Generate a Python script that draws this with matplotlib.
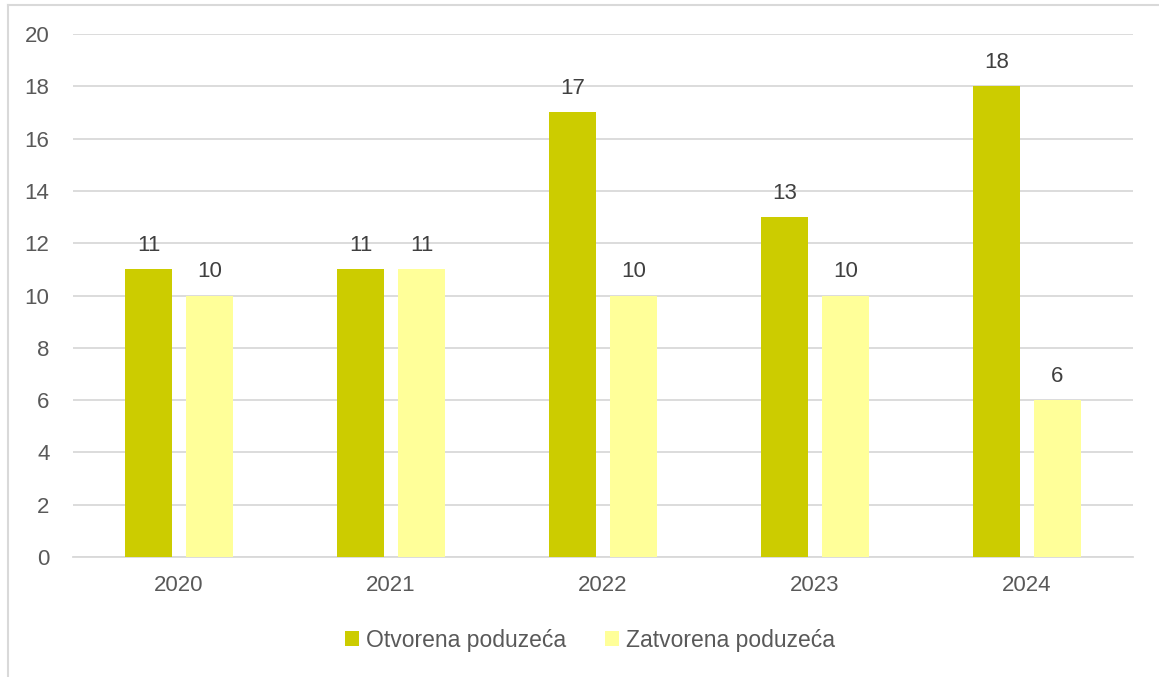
import matplotlib
matplotlib.use("Agg")
import matplotlib.pyplot as plt
from matplotlib.lines import Line2D
from matplotlib.patches import Patch
import numpy as np

years = ["2020", "2021", "2022", "2023", "2024"]
otvorena = [11, 11, 17, 13, 18]
zatvorena = [10, 11, 10, 10, 6]
series_names = ["Otvorena poduzeća", "Zatvorena poduzeća"]
colors = ["#CCCC00", "#FFFF99"]
text_color = "#595959"
grid_color = "#D9D9D9"

plt.rcParams['font.family'] = ['Liberation Sans', 'DejaVu Sans']

fig = plt.figure(figsize=(11.59, 6.77), dpi=100)
ax = fig.add_axes([73/1159, 1-557/677, (1133-73)/1159, (557-34)/677])

x = np.arange(len(years))
w = 0.222
off = 0.144
b1 = ax.bar(x - off, otvorena, w, color=colors[0], zorder=3)
b2 = ax.bar(x + off, zatvorena, w, color=colors[1], zorder=3)

for bars, vals in ((b1, otvorena), (b2, zatvorena)):
    for rect, v in zip(bars, vals):
        ax.text(rect.get_x() + rect.get_width()/2, v + 0.5, str(v),
                ha='center', va='bottom', fontsize=16, color="#404040")

ax.set_xlim(-0.5, len(years) - 0.5)
ax.set_ylim(0, 20)
ax.set_yticks(range(0, 21, 2))
ax.set_xticks(x)
ax.set_xticklabels(years)
ax.yaxis.grid(True, color=grid_color, linewidth=1.3, zorder=0)
ax.set_axisbelow(True)
for s in ["top", "right", "left"]:
    ax.spines[s].set_visible(False)
ax.spines["bottom"].set_color(grid_color)
ax.spines["bottom"].set_linewidth(1.3)
ax.tick_params(axis='both', length=0, labelsize=16, colors=text_color)
ax.tick_params(axis='y', pad=17)
ax.tick_params(axis='x', pad=13)

handles = [Patch(facecolor=c, edgecolor='none') for c in colors]
fig.legend(handles, series_names, loc='center', bbox_to_anchor=(590/1159, 1-640/677),
           ncol=2, frameon=False, fontsize=16.5, labelcolor=text_color,
           handlelength=0.6, handleheight=0.6, handletextpad=0.3, columnspacing=1.7)

# chart border (left and top visible)
fig.add_artist(Line2D([8/1159, 8/1159], [0, 1-5/677], color="#D9D9D9", lw=1.5, transform=fig.transFigure))
fig.add_artist(Line2D([8/1159, 1], [1-5/677, 1-5/677], color="#D9D9D9", lw=1.5, transform=fig.transFigure))

fig.savefig("out.png", dpi=100)
